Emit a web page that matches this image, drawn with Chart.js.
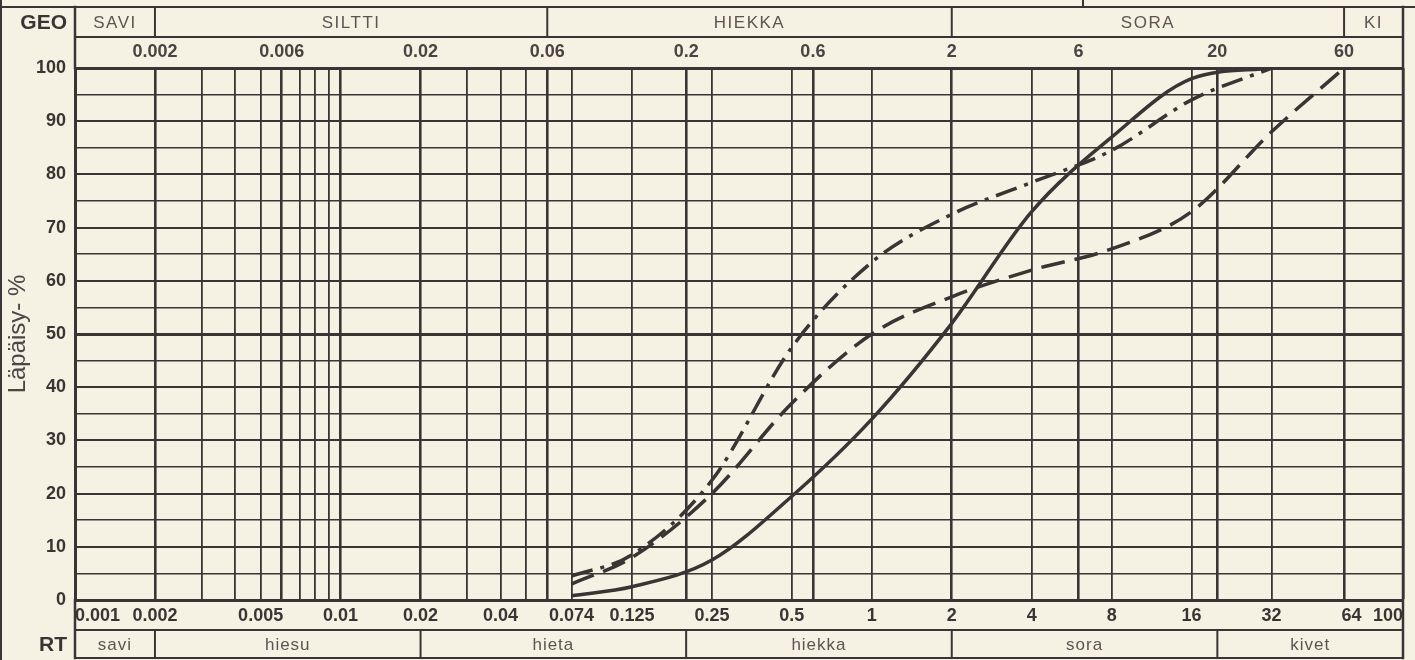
<!DOCTYPE html>
<html lang="fi">
<head>
<meta charset="utf-8">
<title>Rakeisuuskäyrä</title>
<script src="https://cdn.jsdelivr.net/npm/chart.js@4.4.1/dist/chart.umd.min.js"></script>
<style>
  html, body { margin: 0; padding: 0; background: #f6f2e3; }
  #wrap { width: 1415px; height: 660px; }
</style>
</head>
<body>
<div id="wrap"><canvas id="gradChart" width="1415" height="660"></canvas></div>
<script>
/* Rakeisuuskäyrä — GEO / RT grain size chart */

// ── Data ────────────────────────────────────────────────────────────────
// sieve sizes (mm) and passing percentages for the three samples
const sieveSizes    = [0.074, 0.125, 0.25, 0.5, 1, 2, 4, 8, 16, 32, 60];
const sampleSolid   = [0.8, 2.5, 7.5, 19.5, 34, 52, 73, 87, 98, 100, null];
const sampleDashed  = [3, 8, 20, 37, 50, 57, 62, 66, 73, 88, 100];
const sampleDashDot = [4.5, 8.5, 22.5, 47.5, 63.5, 72.5, 78.5, 84.5, 94, 100, null];

// vertical grid lines of the printed form (mm)
const gridSizes = [0.001, 0.002, 0.003, 0.004, 0.005, 0.006, 0.007, 0.008, 0.009, 0.01,
                   0.02, 0.03, 0.04, 0.05, 0.06, 0.074, 0.125, 0.2, 0.25, 0.5, 0.6,
                   1, 2, 4, 6, 8, 16, 20, 32, 60, 64, 100];
const heavySizes = [0.002, 0.006, 0.01, 0.02, 0.06, 0.2, 0.6, 2, 6, 20, 60, 100];

// tick labels: RT (bottom) and GEO (top)
const rtTickLabels  = [0.001, 0.002, 0.005, 0.01, 0.02, 0.04, 0.074, 0.125, 0.25, 0.5, 1, 2, 4, 8, 16, 32, 64, 100];
const geoTickLabels = [0.002, 0.006, 0.02, 0.06, 0.2, 0.6, 2, 6, 20, 60];

// class bands
const geoBounds = [0.002, 0.06, 2, 60];
const geoNames  = ['SAVI', 'SILTTI', 'HIEKKA', 'SORA', 'KI'];
const rtBounds  = [0.002, 0.02, 0.2, 2, 20];
const rtNames   = ['savi', 'hiesu', 'hieta', 'hiekka', 'sora', 'kivet'];

const X_MIN = 0.001, X_MAX = 100;
const INK = '#3a3434';
const PAPER = '#f6f2e3';

Chart.defaults.font.family = "'Liberation Sans', Arial, sans-serif";
Chart.defaults.color = INK;

const toPoints = ys => sieveSizes.map((x, i) => ({ x, y: ys[i] }));

// ── Frame, class bands and row captions ─────────────────────────────────
const bandPlugin = {
    id: 'bands',
    beforeDraw(chart) {
        const { ctx } = chart;
        ctx.save();
        ctx.fillStyle = PAPER;
        ctx.fillRect(0, 0, chart.width, chart.height);
        ctx.restore();
    },
    afterDraw(chart) {
        const { ctx, chartArea: a, scales: { x } } = chart;
        const geoTop = 7, geoBottom = 37, rtTop = 630, rtBottom = 658;
        const line = (x1, y1, x2, y2, w) => {
            ctx.lineWidth = w || 2;
            ctx.beginPath();
            ctx.moveTo(x1, y1);
            ctx.lineTo(x2, y2);
            ctx.stroke();
        };
        ctx.save();
        ctx.strokeStyle = INK;
        ctx.lineCap = 'square';

        line(0, geoTop, chart.width, geoTop);
        line(1083, 0, 1083, geoTop);
        line(1, 0, 1, chart.height);
        line(a.left, geoBottom, a.right, geoBottom);
        line(a.left, geoTop, a.left, a.top, 2.5);
        line(a.right, geoTop, a.right, rtBottom, 2.5);
        line(a.left, a.bottom, a.left, rtBottom, 2.5);
        line(a.left, rtTop, a.right, rtTop);
        line(a.left, rtBottom, a.right, rtBottom);

        geoBounds.forEach(v => {
            const px = x.getPixelForValue(v);
            line(px, geoTop, px, geoBottom);
        });
        rtBounds.forEach(v => {
            const px = x.getPixelForValue(v);
            line(px, rtTop, px, rtBottom);
        });

        // row captions
        ctx.fillStyle = INK;
        ctx.font = "bold 21px 'Liberation Sans', Arial, sans-serif";
        ctx.textAlign = 'right';
        ctx.textBaseline = 'middle';
        ctx.fillText('GEO', a.left - 8, (geoTop + geoBottom) / 2 + 1);
        ctx.fillText('RT', a.left - 8, (rtTop + rtBottom) / 2 + 1);

        // class names
        ctx.fillStyle = '#5b5454';
        ctx.textAlign = 'center';
        ctx.font = "17px 'Liberation Sans', Arial, sans-serif";
        const drawNames = (bounds, names, yMid, spacing) => {
            const edges = [X_MIN, ...bounds, X_MAX];
            ctx.letterSpacing = spacing;
            names.forEach((name, i) => {
                const l = x.getPixelForValue(edges[i]);
                const r = x.getPixelForValue(edges[i + 1]);
                ctx.fillText(name, (l + r) / 2, yMid);
            });
        };
        drawNames(geoBounds, geoNames, (geoTop + geoBottom) / 2 + 1, '1.5px');
        drawNames(rtBounds, rtNames, (rtTop + rtBottom) / 2 + 1, '1px');
        ctx.restore();
    }
};

// ── Chart ────────────────────────────────────────────────────────────────
const lineStyle = {
    borderColor: INK,
    borderWidth: 3.5,
    pointRadius: 0,
    fill: false,
    cubicInterpolationMode: 'monotone',
    spanGaps: false
};

const ctx = document.getElementById('gradChart').getContext('2d');
new Chart(ctx, {
    type: 'line',
    data: {
        datasets: [
            { ...lineStyle, label: 'Näyte 1', data: toPoints(sampleSolid) },
            { ...lineStyle, label: 'Näyte 2', data: toPoints(sampleDashed), borderDash: [24, 10] },
            { ...lineStyle, label: 'Näyte 3', data: toPoints(sampleDashDot), borderDash: [22, 8, 4, 8] }
        ]
    },
    options: {
        responsive: false,
        animation: false,
        layout: { padding: { top: 0, right: 12, bottom: 0, left: 0 } },
        plugins: {
            legend: { display: false },
            tooltip: { enabled: false }
        },
        scales: {
            x: {
                type: 'logarithmic',
                position: 'bottom',
                min: X_MIN,
                max: X_MAX,
                afterBuildTicks: scale => { scale.ticks = gridSizes.map(v => ({ value: v })); },
                afterFit: scale => { scale.height = 60; },
                grid: {
                    drawTicks: false,
                    color: c => (c.tick && c.tick.value === 64) ? 'rgba(0,0,0,0)' : INK,
                    lineWidth: c => (c.tick && heavySizes.includes(c.tick.value)) ? 2.6 : 1.8
                },
                border: { display: true, color: INK, width: 3 },
                ticks: {
                    autoSkip: false,
                    maxRotation: 0,
                    minRotation: 0,
                    align: 'inner',
                    padding: 5,
                    color: INK,
                    font: { size: 18, weight: 'bold' },
                    callback: v => rtTickLabels.includes(v) ? String(v) : ''
                }
            },
            xTop: {
                type: 'logarithmic',
                position: 'top',
                min: X_MIN,
                max: X_MAX,
                afterBuildTicks: scale => { scale.ticks = [X_MIN, ...geoTickLabels, X_MAX].map(v => ({ value: v })); },
                afterFit: scale => { scale.height = 68; },
                grid: { display: false, drawTicks: false },
                border: { display: true, color: INK, width: 3 },
                ticks: {
                    autoSkip: false,
                    maxRotation: 0,
                    minRotation: 0,
                    padding: 5,
                    color: '#4a4343',
                    font: { size: 18, weight: 'bold' },
                    callback: v => geoTickLabels.includes(v) ? String(v) : ''
                }
            },
            y: {
                min: 0,
                max: 100,
                afterFit: scale => { scale.width = 75; },
                grid: {
                    drawTicks: false,
                    color: INK,
                    lineWidth: c => {
                        const v = c.tick ? c.tick.value : 0;
                        if (v === 50) return 3;
                        return v % 10 === 0 ? 2 : 1.5;
                    }
                },
                border: { display: true, color: INK, width: 3 },
                ticks: {
                    stepSize: 5,
                    autoSkip: false,
                    padding: 9,
                    color: INK,
                    font: { size: 18, weight: 'bold' },
                    callback: v => v % 10 === 0 ? String(v) : ''
                },
                title: {
                    display: true,
                    text: 'Läpäisy- %',
                    color: '#4d4646',
                    font: { size: 24, weight: 'normal' },
                    padding: { top: 4, bottom: 0 }
                }
            }
        }
    },
    plugins: [bandPlugin]
});
</script>
</body>
</html>
